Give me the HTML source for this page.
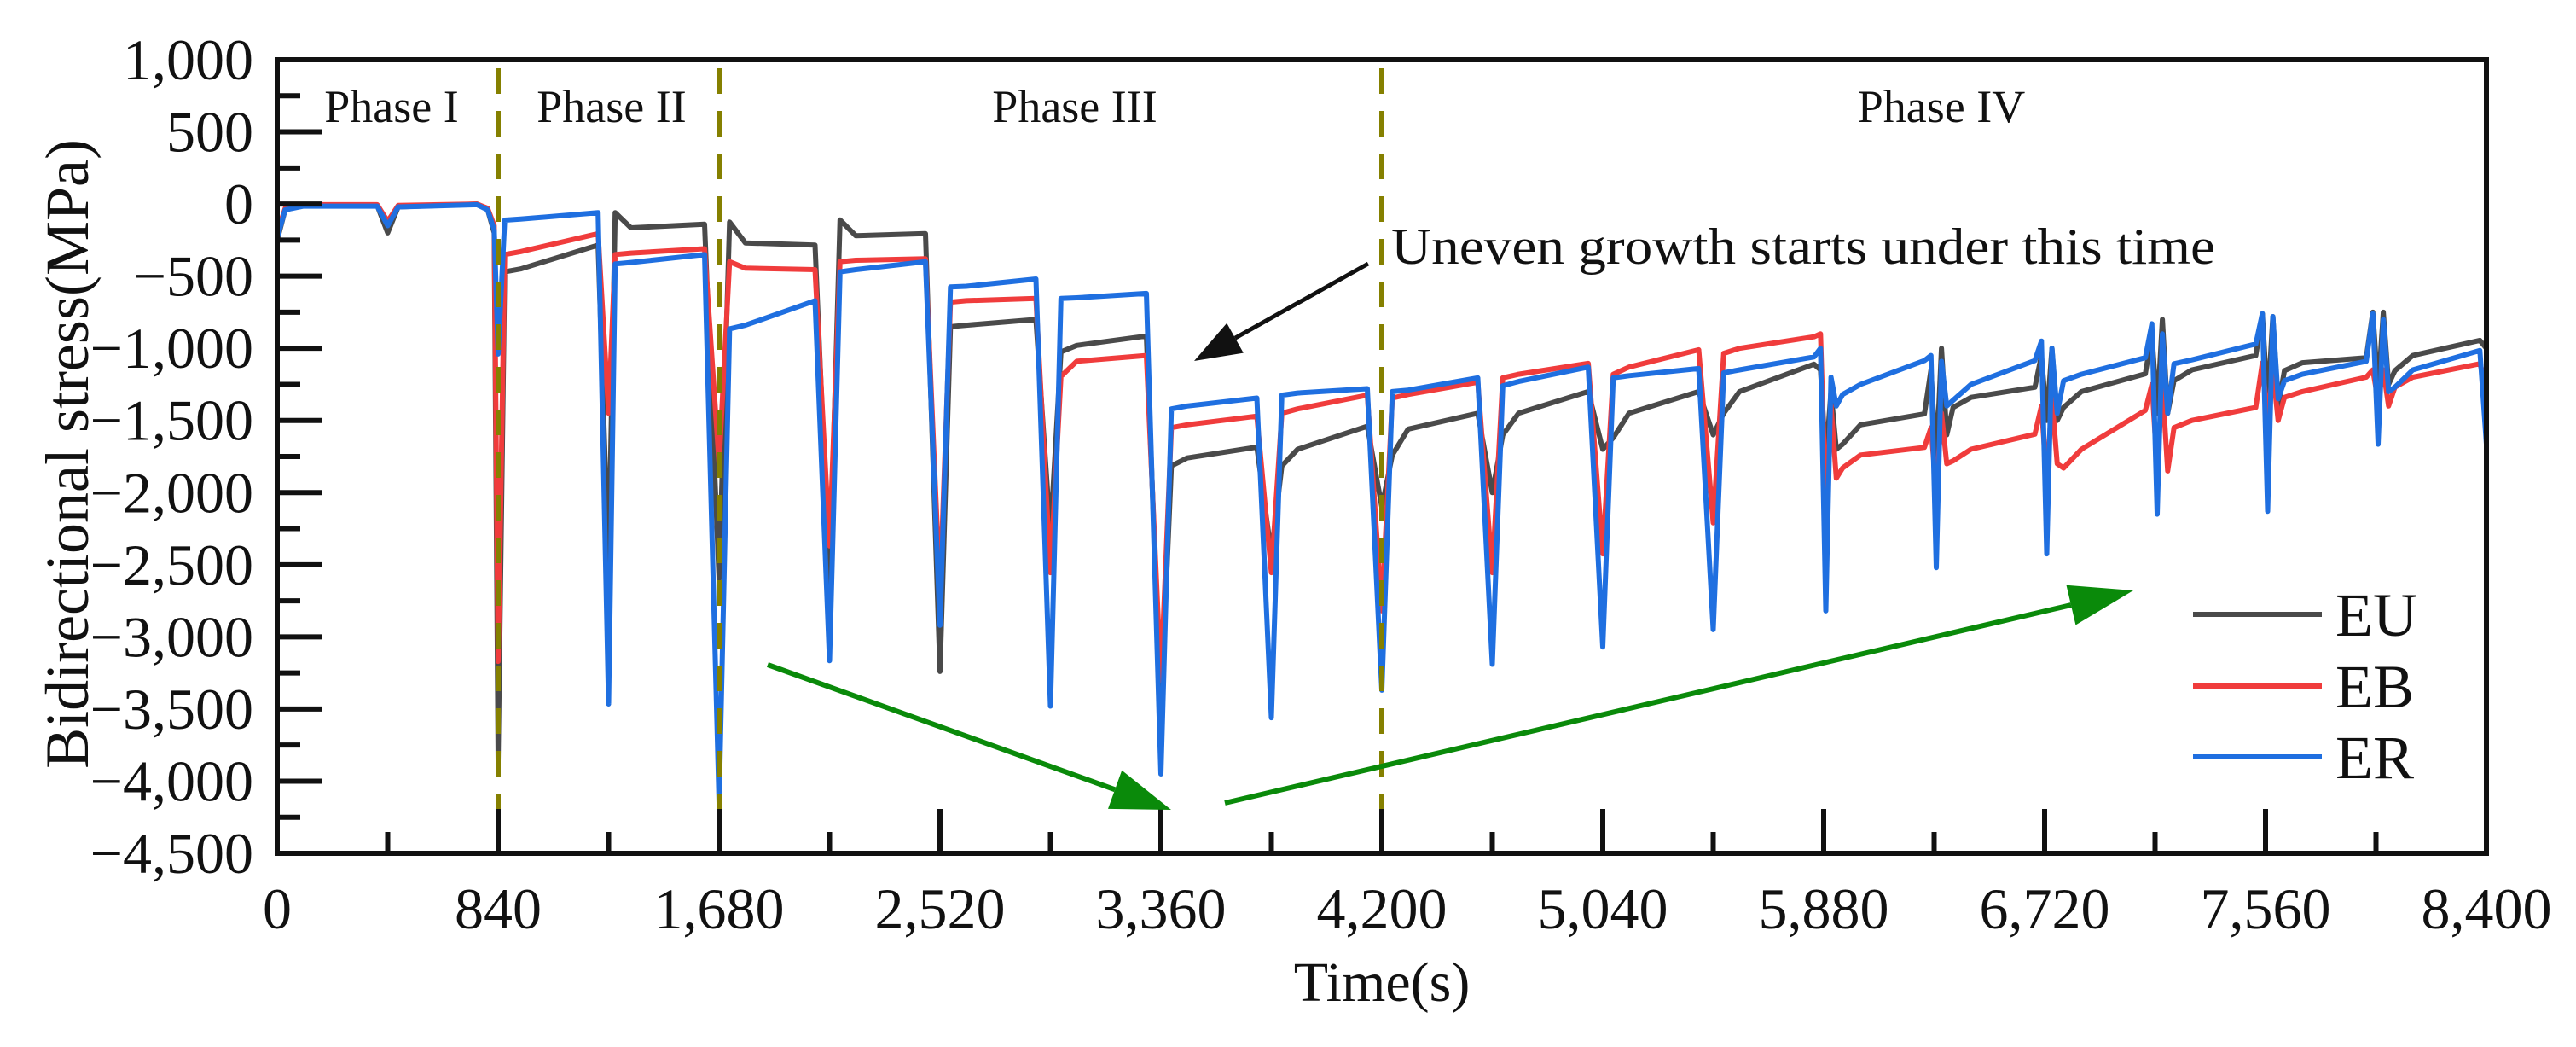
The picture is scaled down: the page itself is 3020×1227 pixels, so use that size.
<!DOCTYPE html>
<html><head><meta charset="utf-8"><style>
html,body{margin:0;padding:0;background:#fff;}
svg{display:block;}
text{font-family:"Liberation Serif",serif;fill:#111;}
</style></head><body>
<svg id="chart" xmlns="http://www.w3.org/2000/svg" width="3020" height="1227" viewBox="0 0 3020 1227">
<rect width="3020" height="1227" fill="#fff"/>
<g id="series"></g>
<g id="axes"></g>
</svg>
<script>
// ---- data ----
const xTicks = [0,840,1680,2520,3360,4200,5040,5880,6720,7560,8400];
const xTickLabels = ["0","840","1,680","2,520","3,360","4,200","5,040","5,880","6,720","7,560","8,400"];
const yTicks = [1000,500,0,-500,-1000,-1500,-2000,-2500,-3000,-3500,-4000,-4500];
const yTickLabels = ["1,000","500","0","\u2212500","\u22121,000","\u22121,500","\u22122,000","\u22122,500","\u22123,000","\u22123,500","\u22124,000","\u22124,500"];
const phaseBoundaries = [840,1680,4200];
const phaseNames = ["Phase I","Phase II","Phase III","Phase IV"];
const cycleTimes = [840,1260,1680,2100,2520,2940,3360,3780,4200,4620,5040,5460,5880,6300,6720,7140,7560,7980];
// Phase I points (time, value)
const phase1Times = [0,30,100,380,420,460,760,800,825];
const euPhase1 = [-250,-40,-10,-10,-200,-20,0,-40,-200];
const ebPhase1 = [-200,-30,-5,-5,-120,-10,0,-30,-150];
const erPhase1 = [-230,-40,-15,-15,-150,-20,-5,-40,-180];
// per cycle: dip minimum, value after recovery, knee value, value before next drop
const euDip   = [-3860,-2530,-2600,-2630,-3240,-2290,-3500,-2425,-2100,-2000,-1700,-1600,-1780,-1800,-1500,-1450,-1400,-1300];
const euStart = [-470,-60,-125,-110,-850,-1025,-1815,-1815,-1740,-1600,-1620,-1450,-1665,-1410,-1410,-1225,-1155,-1155];
const euMid   = [-450,-165,-270,-220,-840,-980,-1760,-1700,-1560,-1450,-1450,-1300,-1530,-1340,-1300,-1150,-1100,-1050];
const euEnd   = [-285,-140,-285,-205,-800,-915,-1685,-1540,-1450,-1300,-1300,-1110,-1455,-1270,-1177,-1050,-1065,-945];
const ebDip   = [-3170,-1450,-1800,-2370,-2690,-2555,-3300,-2555,-2820,-2555,-2425,-2210,-2105,-1990,-1920,-1830,-1500,-1360];
const ebStart = [-350,-350,-400,-400,-680,-1195,-1550,-1450,-1345,-1205,-1180,-1035,-1830,-1780,-1830,-1550,-1340,-1270];
const ebMid   = [-330,-340,-445,-390,-670,-1090,-1530,-1420,-1320,-1180,-1130,-1000,-1740,-1700,-1700,-1500,-1300,-1200];
const ebEnd   = [-205,-310,-455,-380,-655,-1050,-1470,-1325,-1235,-1105,-1010,-920,-1687,-1595,-1430,-1410,-1200,-1107];
const erDip   = [-1040,-3465,-4150,-3165,-2920,-3480,-3950,-3560,-3370,-3190,-3070,-2950,-2820,-2520,-2425,-2150,-2130,-1665];
const erStart = [-112,-415,-865,-470,-575,-655,-1420,-1325,-1300,-1260,-1205,-1170,-1320,-1360,-1225,-1107,-1225,-1270];
const erMid   = [-105,-405,-840,-455,-570,-650,-1400,-1310,-1290,-1230,-1190,-1150,-1250,-1250,-1180,-1080,-1180,-1150];
const erEnd   = [-60,-350,-670,-400,-520,-620,-1345,-1280,-1205,-1130,-1140,-1060,-1085,-1085,-1065,-970,-1090,-1015];
// Phase IV double-dip cycles (last 6 cycles): spike before, bump between dips, second dip
const euPre  = [-1150,-1150,-1050,-900,-760,-750];
const euBump = [-1300,-1000,-1000,-800,-780,-750];
const euDip2 = [-1700,-1600,-1500,-1450,-1400,-1250];
const ebPre  = [-900,-1550,-1400,-1250,-1100,-1150];
const ebBump = [-1400,-1450,-1350,-1250,-1150,-1150];
const ebDip2 = [-1900,-1800,-1800,-1850,-1500,-1400];
const erPre  = [-1000,-1050,-950,-830,-760,-760];
const erBump = [-1200,-1090,-1000,-900,-780,-800];
const erDip2 = [-1400,-1400,-1450,-1450,-1350,-1300];
const finalValues = [-1000,-1250,-1665]; // EU, EB, ER at 8400

// ---- layout ----
const X0=325, X1=2915, Y0=70, Y1=1000, TMAX=8400, VMAX=1000, VMIN=-4500;
const sx = t => X0 + (t/TMAX)*(X1-X0);
const sy = v => Y0 + (VMAX-v)/(VMAX-VMIN)*(Y1-Y0);
const NS="http://www.w3.org/2000/svg";
function mk(tag, attrs, parent){const e=document.createElementNS(NS,tag);for(const k in attrs)e.setAttribute(k,attrs[k]);parent.appendChild(e);return e;}
const gS=document.getElementById('series');
const gA=document.getElementById('axes');

function buildSeries(p1, dip, st, mid, en, pre, bump, dip2, fin){
  const pts=[];
  phase1Times.forEach((t,i)=>pts.push([t,p1[i]]));
  const nD=cycleTimes.length-pre.length;
  cycleTimes.forEach((t,i)=>{
    const late=i>=nD;
    const hw= late?22:(i<2?25:40);
    if(i>0) pts.push([t-hw-15, en[i-1]]);
    if(late){ const j=i-nD; pts.push([t-12, pre[j]]); pts.push([t+8, dip[i]]); pts.push([t+28, bump[j]]); pts.push([t+48, dip2[j]]); pts.push([t+72, st[i]]); pts.push([t+140, mid[i]]);}
    else { pts.push([t, dip[i]]); pts.push([t+hw, st[i]]); pts.push([t+hw+60, mid[i]]); }
  });
  pts.push([TMAX-25, en[en.length-1]]);
  pts.push([TMAX, fin]);
  return pts;
}
const seriesDefs=[
  {name:'eu-line',color:'#4a4a4a',pts:buildSeries(euPhase1,euDip,euStart,euMid,euEnd,euPre,euBump,euDip2,finalValues[0])},
  {name:'eb-line',color:'#f03c3c',pts:buildSeries(ebPhase1,ebDip,ebStart,ebMid,ebEnd,ebPre,ebBump,ebDip2,finalValues[1])},
  {name:'er-line',color:'#1f6fe0',pts:buildSeries(erPhase1,erDip,erStart,erMid,erEnd,erPre,erBump,erDip2,finalValues[2])}
];
seriesDefs.forEach(s=>{
  const d=s.pts.map((p,i)=>(i?'L':'M')+sx(p[0]).toFixed(1)+' '+sy(p[1]).toFixed(1)).join(' ');
  const el=mk('path',{d:d,fill:'none',stroke:s.color,'stroke-width':6,'stroke-linejoin':'round'},gS);
  
  
});

// phase boundaries
phaseBoundaries.forEach(t=>{
  const el=mk('line',{x1:sx(t),x2:sx(t),y1:Y0+10,y2:Y1,stroke:'#858000','stroke-width':6,'stroke-dasharray':'30 20'},gS);
  
  
});
// phase labels
const phaseLabelX=[459,717,1260,2276];
phaseNames.forEach((n,i)=>{
  const el=mk('text',{x:phaseLabelX[i],y:143,'text-anchor':'middle','font-size':54},gA);
  el.textContent=n;
  
  
});

// axes frame
const fr=mk('rect',{x:X0,y:Y0,width:X1-X0,height:Y1-Y0,fill:'none',stroke:'#111','stroke-width':6},gA);


// y ticks
yTicks.forEach((v,i)=>{
  const y=sy(v);
  mk('line',{x1:X0,x2:X0+53,y1:y,y2:y,stroke:'#111','stroke-width':6},gA);
  if(i<yTicks.length-1){const ym=sy(v-250);mk('line',{x1:X0,x2:X0+27,y1:ym,y2:ym,stroke:'#111','stroke-width':6},gA);}
  const el=mk('text',{x:297,y:y+23,'text-anchor':'end','font-size':68},gA);
  el.textContent=yTickLabels[i];
  
  
});
// x ticks
xTicks.forEach((t,i)=>{
  const x=sx(t);
  mk('line',{x1:x,x2:x,y1:Y1,y2:Y1-52,stroke:'#111','stroke-width':6},gA);
  if(i<xTicks.length-1){const xm=sx(t+420);mk('line',{x1:xm,x2:xm,y1:Y1,y2:Y1-25,stroke:'#111','stroke-width':6},gA);}
  const el=mk('text',{x:x,y:1088,'text-anchor':'middle','font-size':68},gA);
  el.textContent=xTickLabels[i];
  
  
});
// axis titles
let xt=mk('text',{x:1620,y:1173,'text-anchor':'middle','font-size':66},gA);
xt.textContent='Time(s)';


let yt=mk('text',{x:0,y:0,'text-anchor':'middle','font-size':72,transform:'translate(103,532) rotate(-90)'},gA);
yt.textContent='Bidirectional stress(MPa)';



// annotation
let an=mk('text',{x:1631,y:309,'font-size':60,textLength:966,lengthAdjust:'spacingAndGlyphs'},gA);
an.textContent='Uneven growth starts under this time';


function arrow(x1,y1,x2,y2,color,w,hl,hw,name){
  const g=mk('g',{},gA);
  
  
  const dx=x2-x1,dy=y2-y1,L=Math.hypot(dx,dy),ux=dx/L,uy=dy/L;
  const bx=x2-ux*hl,by=y2-uy*hl;
  mk('line',{x1:x1,y1:y1,x2:bx,y2:by,stroke:color,'stroke-width':w},g);
  mk('polygon',{points:`${x2},${y2} ${bx-uy*hw},${by+ux*hw} ${bx+uy*hw},${by-ux*hw}`,fill:color},g);
}
arrow(1604,309,1400,423,'#111',5,55,20,'annotation-arrow');
arrow(900,779,1373,949,'#0a8a0a',6,70,24,'decrease-arrow');
arrow(1436,941,2501,692,'#0a8a0a',6,75,24,'increase-arrow');

// legend
const legendNames=['EU','EB','ER'];
const legendColors=['#4a4a4a','#f03c3c','#1f6fe0'];
const legendY=[720,804,887];
legendNames.forEach((n,i)=>{
  const g=mk('g',{},gA);
  
  
  mk('line',{x1:2571,x2:2722,y1:legendY[i],y2:legendY[i],stroke:legendColors[i],'stroke-width':6},g);
  const t=mk('text',{x:2738,y:legendY[i]+25,'font-size':72},g);
  t.textContent=n;
});
</script>
</body></html>
